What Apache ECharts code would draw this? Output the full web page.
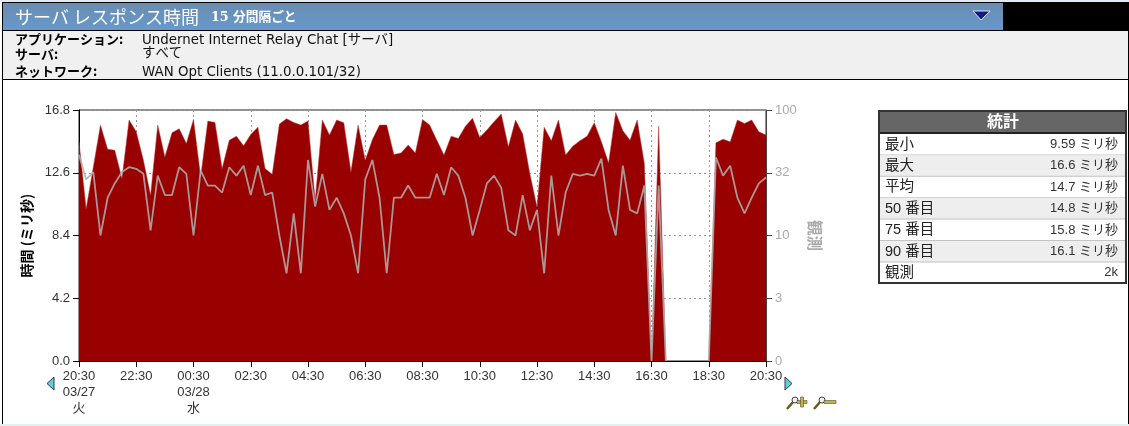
<!DOCTYPE html>
<html><head><meta charset="utf-8">
<style>html,body{margin:0;padding:0;background:#fff;overflow:hidden}#c{width:1129px;height:426px}</style>
<script src="https://cdn.jsdelivr.net/npm/echarts@6/dist/echarts.min.js"></script>
</head><body><div id="c"></div>
<script>
const tickLabels=['20:30\n03/27\n火','22:30','00:30\n03/28\n水','02:30','04:30','06:30','08:30','10:30','12:30','14:30','16:30','18:30','20:30'];
const timeMs=[14.67,10.19,12.99,15.79,14.18,14.11,12.21,16.13,15.34,13.44,11.09,15.79,13.66,15.28,15.55,14.56,16.17,12.32,16.06,15.97,12.88,14.78,15.05,14.40,15.16,15.64,12.88,12.50,15.86,16.22,15.97,15.79,16.06,10.75,16.13,15.12,16.13,15.95,12.66,15.79,13.44,14.83,15.79,15.79,13.82,13.93,14.45,13.93,16.17,15.79,14.78,13.78,15.05,14.90,15.72,16.24,14.96,15.46,16.02,16.53,14.34,16.13,15.19,12.54,10.30,15.64,14.74,16.13,13.78,14.38,14.74,15.05,15.95,14.67,13.26,16.64,15.41,14.78,16.13,13.22,0,15.72,0,null,null,null,null,null,0,14.60,14.85,14.67,16.13,15.90,16.13,15.34,15.12];
const observations=[44,28,32,10,20,26,32,35,34,31,11,30,21,21,35,31,10,33,25,25,22,35,30,36,21,36,21,22,10,5,15,5,40,17,31,16,20,15,10,5,28,40,20,5,20,20,25,20,20,20,31,21,35,30,20,10,16,26,30,24,11,10,21,11,16,5,30,10,22,31,30,31,30,41,16,10,36,16,15,25,1,25,1,null,null,null,null,null,1,42,30,36,20,15,20,26,29];
const leftTitle='時間 (ミリ秒)', rightTitle='観測';
const statNames=['最小','最大','平均','50 番目','75 番目','90 番目','観測'];
const statValues=['9.59 ミリ秒','16.6 ミリ秒','14.7 ミリ秒','14.8 ミリ秒','15.8 ミリ秒','16.1 ミリ秒','2k'];
const infoNames=['アプリケーション:','サーバ:','ネットワーク:'];
const infoValues=['Undernet Internet Relay Chat [サーバ]','すべて','WAN Opt Clients (11.0.0.101/32)'];
const categories=timeMs.map((_,i)=>String(i));
const FONT='"Liberation Sans","Noto Sans CJK JP",sans-serif';
const UI='"DejaVu Sans","Noto Sans CJK JP",sans-serif';
const JP='"Noto Sans CJK JP",sans-serif';
const g=[];
const rect=(x,y,w,h,fill,extra)=>g.push(Object.assign({type:'rect',silent:true,shape:{x,y,width:w,height:h},style:{fill}},extra||{}));
const text=(x,y,t,font,fill,align,extra)=>g.push(Object.assign({type:'text',silent:true,x,y,style:{text:t,font,fill,align:align||'left',verticalAlign:'middle',...(extra||{})}}));
const poly=(pts,fill,stroke)=>g.push({type:'polygon',silent:true,shape:{points:pts},style:{fill,stroke:stroke||null,lineWidth:1}});
// page frame
rect(0,0,1129,2,'#dfeaf2');
rect(0,424,1129,2,'#e3eef5');
rect(2,2,1127,1,'#000');
rect(2,2,1,422,'#000');
rect(1128,2,1,422,'#000');
rect(3,3,1000,27,new echarts.graphic.LinearGradient(0,0,0,1,[{offset:0,color:'#6a8cb0'},{offset:1,color:'#6699cc'}]));
rect(1003,3,126,27,'#000');
rect(3,30,1125,1,'#000');
rect(3,31,1125,48,'#f0f0f0');
rect(3,79,1125,1,'#000');
text(15,17,'サーバ レスポンス時間','400 18px '+JP,'#fff');
text(211,18,'15 分間隔ごと','700 12.7px "DejaVu Serif","Noto Sans CJK JP",serif','#fff');
poly([[973,11],[990,11],[981,20]],'#101a80','#dbe6f0');
const infoY=[39,54,71], valY=[40.5,54,72.5];
infoNames.forEach((t,i)=>{text(15,infoY[i],t,'700 13px '+JP,'#000');text(142,valY[i],infoValues[i],'13.4px '+UI,'#111');});
// stats table
rect(878,110,249,174,'#333');
rect(880,112,245,170,'#fff');
rect(880,112,245,20,'#666');
rect(880,132,245,2,'#222');
text(1003,121,'統計','700 16px '+JP,'#fff','center');
const rowTop=134,rowH=21.4;
statNames.forEach((t,i)=>{
  const y=rowTop+i*rowH;
  if(i%2===1) rect(880,y,245,rowH,'#eeeeee');
  if(i<statNames.length-1) rect(880,y+rowH-1,245,1,'#c4c4c4');
  text(885,y+10.5,t,'14.5px '+FONT,'#222');
  text(1118,y+10.5,statValues[i],'13px '+FONT,'#333','right');
});
// pager arrows
poly([[54,377],[54,390],[47,383.5]],'#55d6d6','#335');
poly([[785,377],[785,390],[792,383.5]],'#55d6d6','#335');
// zoom icons
function mag(cx,plus){
  g.push({type:'line',silent:true,shape:{x1:cx-7,y1:409,x2:cx-1,y2:402},style:{stroke:'#6a5a18',lineWidth:2.5}});
  g.push({type:'circle',silent:true,shape:{cx:cx+1,cy:400,r:3},style:{fill:'#e8f4f4',stroke:'#444',lineWidth:1}});
  rect(plus?cx+3:cx+3,400.5,plus?10:12,3,'#c4b440',{style:{fill:'#c4b440',stroke:'#333',lineWidth:.5}});
  if(plus) rect(cx+6.5,397,3,10,'#c4b440',{style:{fill:'#c4b440',stroke:'#333',lineWidth:.5}});
}
mag(794,true);mag(821,false);

const chart=echarts.init(document.getElementById('c'),null,{renderer:'canvas'});
chart.setOption({
  animation:false,
  textStyle:{fontFamily:FONT},
  grid:{left:79,top:110,width:687,height:251,show:true,borderColor:'#222',borderWidth:1,backgroundColor:'transparent',containLabel:false},
  xAxis:{type:'category',boundaryGap:false,data:categories,
    axisLine:{lineStyle:{color:'#000'}},
    axisTick:{interval:7,length:6,lineStyle:{color:'#000'}},
    splitLine:{show:true,interval:7,lineStyle:{type:[2,3],color:'#999'}},
    axisLabel:{interval:7,showMaxLabel:true,showMinLabel:true,hideOverlap:false,margin:7,
      color:'#333',fontSize:13,lineHeight:16,fontFamily:FONT,
      formatter:(v,i)=>tickLabels[Math.round(i/8)]}},
  yAxis:[
    {type:'value',min:0,max:16.8,interval:4.2,position:'left',
      name:leftTitle,nameLocation:'middle',nameGap:44,nameRotate:90,
      nameTextStyle:{color:'#000',fontWeight:'bold',fontSize:14,fontFamily:JP},
      axisLine:{show:true,lineStyle:{color:'#000'}},
      axisTick:{show:true,length:6,lineStyle:{color:'#000'}},
      splitLine:{show:true,lineStyle:{type:[2,3],color:'#999'}},
      axisLabel:{color:'#333',fontSize:13,margin:9,formatter:v=>v.toFixed(1)}},
    {type:'log',logBase:Math.sqrt(10),min:1,max:100,position:'right',
      name:rightTitle,nameLocation:'middle',nameGap:39,nameRotate:-90,
      nameTextStyle:{color:'#aaa',fontWeight:'bold',fontSize:15.5,fontFamily:JP},
      axisLine:{show:true,lineStyle:{color:'#444'}},
      axisTick:{show:true,length:6,lineStyle:{color:'#444'}},
      splitLine:{show:false},
      axisLabel:{color:'#aaa',fontSize:13,margin:9,formatter:v=>{const r=Math.round(v);return r<=1?'0':String(r);}}}
  ],
  series:[
    {type:'line',name:'時間',yAxisIndex:0,data:timeMs,symbol:'none',connectNulls:false,
      lineStyle:{width:0.5,color:'#b04040'},areaStyle:{color:'#990000',opacity:1},itemStyle:{color:'#990000'}},
    {type:'line',name:'観測',yAxisIndex:1,data:observations,symbol:'none',connectNulls:false,
      lineStyle:{width:1.8,color:'rgba(175,175,175,0.85)'},itemStyle:{color:'#a3a3a3'}}
  ],
  graphic:{elements:g}
});
</script></body></html>
